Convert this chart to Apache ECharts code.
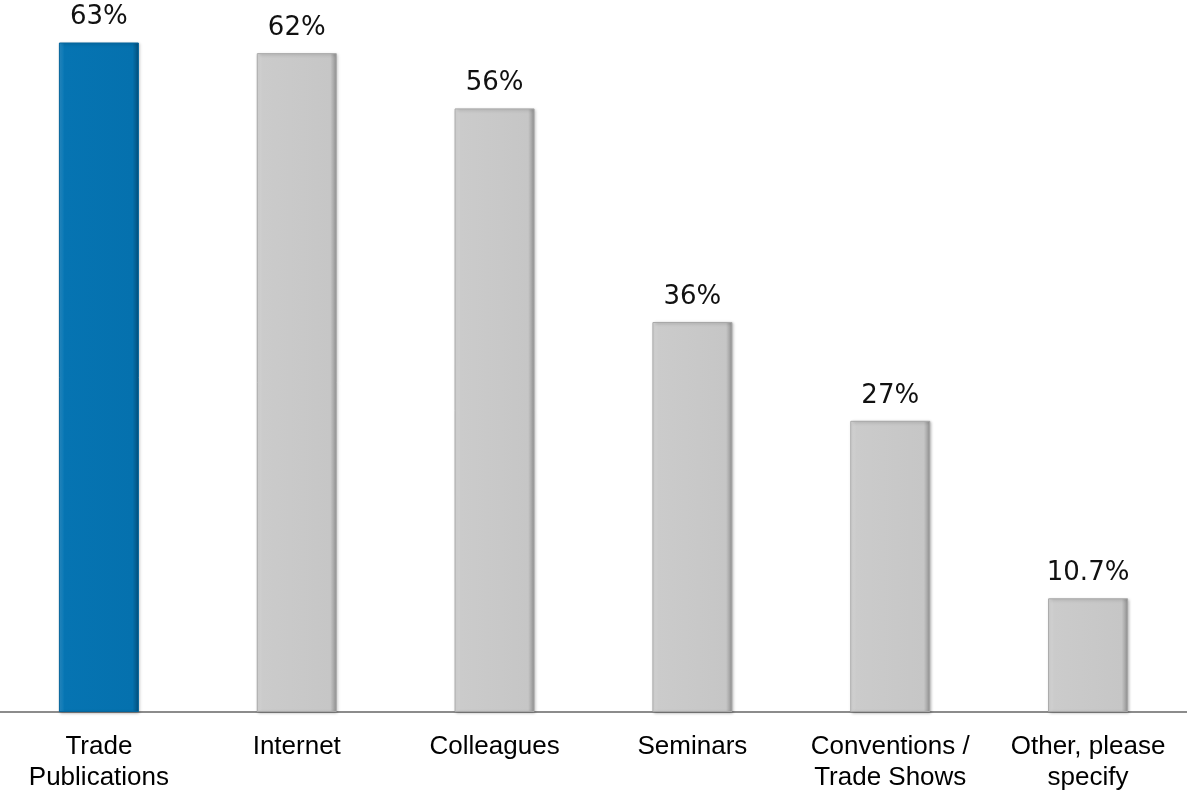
<!DOCTYPE html>
<html>
<head>
<meta charset="utf-8">
<script src="https://cdn.jsdelivr.net/npm/echarts@6/dist/echarts.min.js"></script>
<style>
html,body{margin:0;padding:0;background:#fff;}
#chart{width:1187px;height:793px;}
</style>
</head>
<body>
<div id="chart"></div>
<script>
const categories = ["Trade\nPublications", "Internet", "Colleagues", "Seminars", "Conventions /\nTrade Shows", "Other, please\nspecify"];
const values = [63, 62, 56.8, 36.7, 27.4, 10.7];
const valueLabels = ["63%", "62%", "56%", "36%", "27%", "10.7%"];
const highlightIndex = 0;

function grayFill() {
  return new echarts.graphic.LinearGradient(0, 0, 1, 0, [
    {offset: 0, color: '#e2e2e2'},
    {offset: 0.07, color: '#cbcbcb'},
    {offset: 0.92, color: '#c6c6c6'},
    {offset: 1, color: '#8f8f8f'}
  ]);
}
function blueFill() {
  return new echarts.graphic.LinearGradient(0, 0, 1, 0, [
    {offset: 0, color: '#2a93cf'},
    {offset: 0.07, color: '#0674b2'},
    {offset: 0.92, color: '#0571ae'},
    {offset: 1, color: '#044e7a'}
  ]);
}

const chart = echarts.init(document.getElementById('chart'), null, {renderer: 'canvas'});
chart.setOption({
  animation: false,
  grid: {left: 0, right: 0, top: 0, bottom: 79, containLabel: false},
  xAxis: {
    type: 'category',
    data: categories,
    axisLine: {show: true, lineStyle: {color: '#8c8c8c', width: 2}},
    axisTick: {show: false},
    axisLabel: {
      color: '#000',
      fontFamily: 'Liberation Sans, Arial, sans-serif',
      fontSize: 26,
      lineHeight: 31,
      margin: 19,
      interval: 0
    }
  },
  yAxis: {
    type: 'value',
    min: 0,
    max: 67,
    show: false,
    splitLine: {show: false}
  },
  series: [{
    type: 'bar',
    barWidth: 80,
    data: values.map((v, i) => ({
      value: v,
      itemStyle: {
        color: i === highlightIndex ? blueFill() : grayFill(),
        borderColor: i === highlightIndex ? '#05659c' : '#a8a8a8',
        borderWidth: 1,
        shadowColor: 'rgba(0,0,0,0.25)',
        shadowBlur: 3,
        shadowOffsetX: 1,
        shadowOffsetY: 1
      }
    })),
    label: {
      show: true,
      position: 'top',
      distance: 12,
      color: '#111',
      fontFamily: 'DejaVu Sans, sans-serif',
      fontSize: 26,
      formatter: p => valueLabels[p.dataIndex]
    }
  }]
});
</script>
</body>
</html>
